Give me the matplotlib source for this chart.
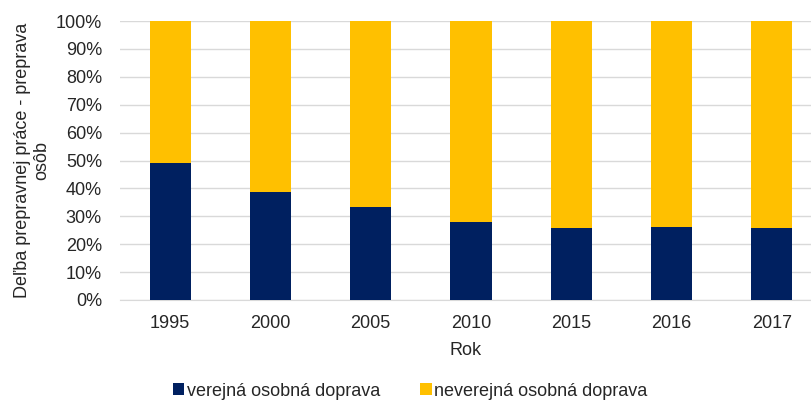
import matplotlib.pyplot as plt
from matplotlib.ticker import PercentFormatter

plt.rcParams['font.family'] = ['Liberation Sans', 'DejaVu Sans']

years = ["1995", "2000", "2005", "2010", "2015", "2016", "2017"]
verejna = [49.1, 38.7, 33.2, 27.9, 25.9, 26.2, 25.9]
neverejna = [100 - v for v in verejna]

fig = plt.figure(figsize=(8.12, 4.03), dpi=100)
ax = fig.add_axes([120 / 812, 103 / 403, 692 / 812, 279 / 403])

x = range(len(years))
ax.bar(x, verejna, width=0.41, color="#002060", label="verejná osobná doprava", zorder=3)
ax.bar(x, neverejna, width=0.41, bottom=verejna, color="#FFC000",
       label="neverejná osobná doprava", zorder=3)

ax.set_ylim(0, 100)
ax.set_xlim(-0.5, 6.4)
ax.set_yticks(range(0, 101, 10))
ax.yaxis.set_major_formatter(PercentFormatter(decimals=0))
ax.set_xticks(list(x))
ax.set_xticklabels(years)
ax.grid(axis="y", color="#d9d9d9", linewidth=1, zorder=0)
for s in ["top", "right", "left"]:
    ax.spines[s].set_visible(False)
ax.spines["bottom"].set_color("#d9d9d9")
ax.tick_params(axis="both", length=0, labelsize=13, colors="#262626")
ax.tick_params(axis="y", pad=13)
ax.tick_params(axis="x", pad=11)

ax.set_xlabel("Rok", fontsize=13, color="#262626", labelpad=7)
ax.set_ylabel("Deľba prepravnej práce - preprava\nosôb", fontsize=13,
              color="#262626", labelpad=4, linespacing=1.15, multialignment="center")

fig.legend(loc="lower center", bbox_to_anchor=(0.505, -0.032), ncol=2, frameon=False,
           fontsize=13, handlelength=0.65, handleheight=0.65, handletextpad=0.15,
           columnspacing=2.2, labelcolor="#262626")

fig.savefig("out.png", dpi=100)
